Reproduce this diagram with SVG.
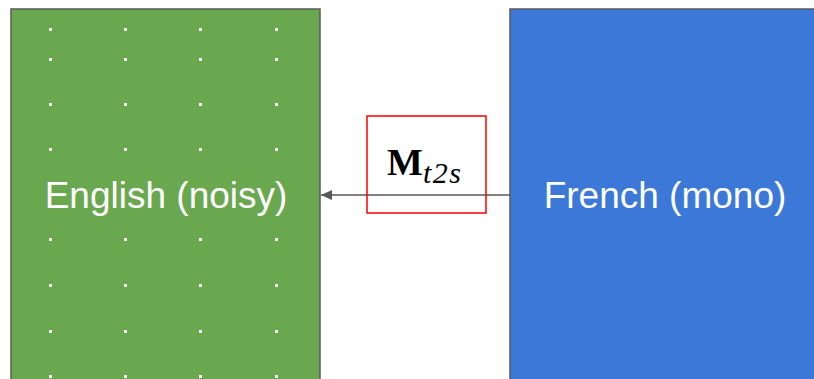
<svg xmlns="http://www.w3.org/2000/svg" width="814" height="379" viewBox="0 0 814 379">
<defs>
<style>
.box{stroke:#595959;stroke-width:1.5}
.lbl{font-family:"Liberation Sans",Arial,sans-serif;font-size:37px;fill:#ffffff;text-anchor:middle}
.dot{fill:#ffffff}
.conn{stroke:#595959;stroke-width:1.5;fill:none}
</style>
<marker id="ah" markerWidth="12" markerHeight="10" refX="11" refY="5" orient="auto" markerUnits="userSpaceOnUse">
<path d="M0,0 L11,5 L0,10 Z" fill="#595959"/>
</marker>
<g id="dotrow">
<rect class="dot" x="49" y="-1" width="3" height="3"/>
<rect class="dot" x="124" y="-1" width="3" height="3"/>
<rect class="dot" x="199" y="-1" width="3" height="3"/>
<rect class="dot" x="275" y="-1" width="3" height="3"/>
</g>
</defs>
<rect width="814" height="379" fill="#ffffff"/>
<g id="english">
<rect class="box" x="11" y="9" width="309" height="380" fill="#6aa84f"/>
<use href="#dotrow" y="29"/>
<use href="#dotrow" y="59"/>
<use href="#dotrow" y="104"/>
<use href="#dotrow" y="149"/>
<use href="#dotrow" y="239"/>
<use href="#dotrow" y="285"/>
<use href="#dotrow" y="331"/>
<use href="#dotrow" y="376"/>
<text class="lbl" x="166" y="208">English (noisy)</text>
</g>
<g id="french">
<rect class="box" x="510" y="9" width="320" height="380" fill="#3c78d8"/>
<text class="lbl" x="665" y="208">French (mono)</text>
</g>
<g id="connectors">
<line class="conn" x1="510" y1="195" x2="321" y2="195" marker-end="url(#ah)"/>
</g>
<g id="mt2s">
<rect x="367" y="116" width="119" height="97" fill="none" stroke="#ff0000" stroke-width="1.5"/>
<text x="387" y="175" font-family="'Liberation Serif','Times New Roman',serif" font-size="38" font-weight="bold" fill="#000000">M<tspan font-weight="normal" font-style="italic" font-size="30" dy="8" letter-spacing="1.5">t2s</tspan></text>
</g>
</svg>
